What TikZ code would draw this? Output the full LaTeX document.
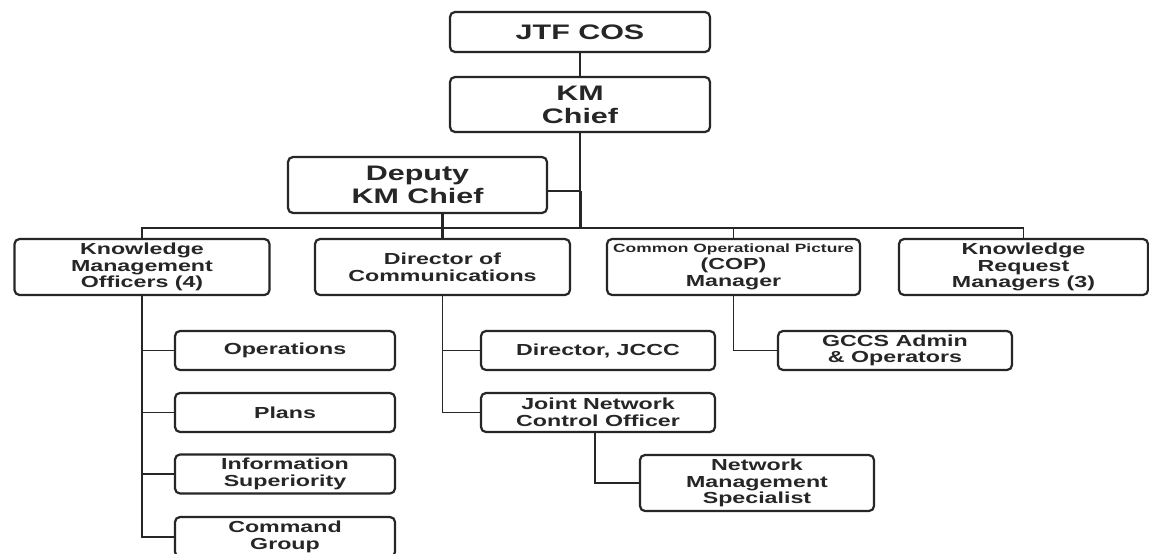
\documentclass[tikz,border=0pt]{standalone}
\usepackage{fontspec}
\newfontfamily\orgfont[FakeStretch=1.45]{Liberation Sans Bold}
\tikzset{
  orgbox/.style={draw=black!85, line width=2.2pt, rounded corners=5pt, fill=white,
                 inner sep=0pt, align=center, text=black!85},
  bigtext/.style={font=\orgfont\fontsize{21}{23}\selectfont},
  midtext/.style={font=\orgfont\fontsize{16}{16.7}\selectfont},
  conn/.style={draw=black!85, line width=1.5pt},
  heavy/.style={draw=black!85, line width=2.6pt},
}
\begin{document}
\begin{tikzpicture}[x=1pt,y=-1pt]
\useasboundingbox[fill=white] (0,0) rectangle (1149,554);

% command chain
\node[orgbox,bigtext,minimum width=260pt,minimum height=40pt] (jtf) at (580,32) {JTF COS};
\node[orgbox,bigtext,minimum width=260pt,minimum height=55pt] (km) at (580,104.5) {KM\\Chief};
\node[orgbox,bigtext,minimum width=259pt,minimum height=56pt] (dep) at (417.5,185) {Deputy\\KM Chief};

% second level
\node[orgbox,midtext,minimum width=255pt,minimum height=56pt] (kmo) at (142,267) {Knowledge\\Management\\Officers (4)};
\node[orgbox,midtext,minimum width=255pt,minimum height=56pt] (doc) at (442.5,267) {Director of\\Communications};
\node[orgbox,midtext,minimum width=253pt,minimum height=56pt] (cop) at (733.5,267)
  {{\fontsize{12}{14}\selectfont Common Operational Picture}\\(COP)\\Manager};
\node[orgbox,midtext,minimum width=249pt,minimum height=56pt] (krm) at (1023.5,267) {Knowledge\\Request\\Managers (3)};

% knowledge management officers' sections
\node[orgbox,midtext,minimum width=220pt,minimum height=39pt] (ops) at (285,350.5) {Operations};
\node[orgbox,midtext,minimum width=220pt,minimum height=39pt] (plans) at (285,412.5) {Plans};
\node[orgbox,midtext,minimum width=220pt,minimum height=39pt] (info) at (285,474) {Information\\Superiority};
\node[orgbox,midtext,minimum width=220pt,minimum height=40pt] (cmd) at (285,537) {Command\\Group};

% communications branch
\node[orgbox,midtext,minimum width=234pt,minimum height=39pt] (jccc) at (598,350.5) {Director, JCCC};
\node[orgbox,midtext,minimum width=234pt,minimum height=39pt] (jnco) at (598,412.5) {Joint Network\\Control Officer};
\node[orgbox,midtext,minimum width=234pt,minimum height=56pt] (nms) at (757,483) {Network\\Management\\Specialist};

% COP branch
\node[orgbox,midtext,minimum width=234pt,minimum height=39pt] (gccs) at (895,350.5) {GCCS Admin\\\& Operators};

% connectors
\coordinate (bus) at (0,228);
\coordinate (dj) at (581,191);
\draw[conn] (jtf.south) -- (km.north);
\draw[conn] (km.south) -- (km.south |- bus);
\draw[conn] (dep.east |- dj) -- (dj);
\draw[heavy] (dj) -- (dj |- bus);
\draw[heavy] (doc.north |- dep.south) -- (doc.north);
\draw[conn] (kmo.north) -- (kmo.north |- bus) -- (krm.north |- bus) -- (krm.north);
\draw[conn] (cop.north |- bus) -- (cop.north);

\draw[conn] (kmo.south) -- (kmo.south |- cmd.west) -- (cmd.west);
\foreach \n in {ops,plans,info} \draw[conn] (kmo.south |- \n.west) -- (\n.west);

\draw[conn] (doc.south) -- (doc.south |- jnco.west) -- (jnco.west);
\draw[conn] (doc.south |- jccc.west) -- (jccc.west);
\draw[conn] ([xshift=-3pt]jnco.south) |- (nms.west);

\draw[conn] (cop.south) |- (gccs.west);
\end{tikzpicture}
\end{document}
